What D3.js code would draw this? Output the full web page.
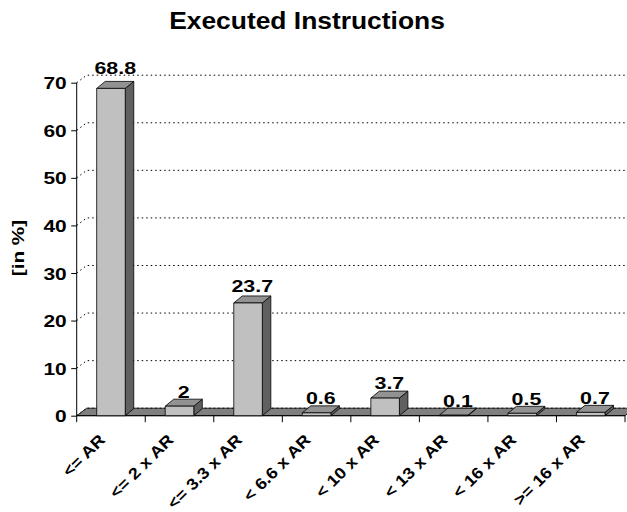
<!DOCTYPE html>
<html>
<head>
<meta charset="utf-8">
<script src="https://cdn.jsdelivr.net/npm/d3@7"></script>
<style>
  html, body { margin: 0; padding: 0; background: #fff; }
  svg { display: block; }
  text { font-family: Arial, "Liberation Sans", Helvetica, sans-serif; font-weight: bold; fill: #000; }
</style>
</head>
<body>
<svg id="chart" width="627" height="512"></svg>
<script>
const categories = ["<= AR", "<= 2 x AR", "<= 3.3 x AR", "< 6.6 x AR", "< 10 x AR", "< 13 x AR", "< 16 x AR", ">= 16 x AR"];
const values = [68.8, 2, 23.7, 0.6, 3.7, 0.1, 0.5, 0.7];
const yTicks = [0, 10, 20, 30, 40, 50, 60, 70];
const titleText = "Executed Instructions";
const yTitle = "[in %]";

const svg = d3.select("#chart");
const left = 76.7, right = 625, y0px = 415.7, yTop = 82.7;
const wallDx = 10, wallDy = -7.5;   // floor / back wall depth
const barDx = 8.5, barDy = -7;      // bar depth
const SX = 1.26;                    // horizontal stretch of the reference lettering

const x = d3.scaleBand().domain(categories).range([left, right])
  .paddingInner(0.583).paddingOuter(0.2915);
const y = d3.scaleLinear().domain([0, 70]).range([y0px, yTop]);
const step = x.step();

// Title
svg.append("text").attr("transform", "translate(307,28.5) scale(1.1,1)").attr("text-anchor", "middle")
  .style("font-size", "24px").text(titleText);

// Y title
svg.append("text").attr("transform", `translate(24,248) rotate(-90) scale(${SX - 0.04},1)`)
  .attr("text-anchor", "middle").style("font-size", "17px").text(yTitle);

// Floor
const floorPts = [[left, y0px], [right, y0px], [right + wallDx, y0px + wallDy], [left + wallDx, y0px + wallDy]];
svg.append("polygon").attr("points", floorPts.map(p => p.join(",")).join(" "))
  .attr("fill", "#7f7f7f").attr("stroke", "#000").attr("stroke-width", 0.8);

// Gridlines (dotted) on side wall + back wall
const grid = svg.append("g");
yTicks.forEach(t => {
  const yy = y(t);
  grid.append("path")
    .attr("d", `M${left},${yy}L${left + wallDx},${yy + wallDy}L${627},${yy + wallDy}`)
    .attr("fill", "none").attr("stroke", "#000").attr("stroke-width", 1)
    .attr("stroke-dasharray", "1.5,3");
});

// Y axis via d3
const yAxis = d3.axisLeft(y).tickValues(yTicks).tickSize(5.5).tickFormat(d3.format("d"));
const yg = svg.append("g").attr("transform", `translate(${left},0)`).call(yAxis);
yg.select(".domain").remove();
yg.selectAll(".tick line").attr("stroke", "#000").attr("stroke-width", 1);
yg.selectAll(".tick text")
  .attr("x", 0).attr("dy", "0.36em")
  .attr("transform", `translate(-10,0) scale(${SX - 0.03},1)`)
  .style("font-size", "17px").style("font-family", "Arial, 'Liberation Sans', sans-serif")
  .style("font-weight", "bold").attr("fill", "#000");
svg.append("line").attr("x1", left).attr("x2", left).attr("y1", y(70)).attr("y2", y0px + 6.5)
  .attr("stroke", "#000").attr("stroke-width", 1);

// X axis line and ticks at band boundaries
svg.append("line").attr("x1", left).attr("x2", right).attr("y1", y0px).attr("y2", y0px)
  .attr("stroke", "#000").attr("stroke-width", 1);
categories.forEach((c, i) => {
  const bx = x(c) - (step - x.bandwidth()) / 2 + step;
  svg.append("line").attr("x1", bx).attr("x2", bx).attr("y1", y0px).attr("y2", y0px + 6.5)
    .attr("stroke", "#000").attr("stroke-width", 1);
});

// Bars
const bars = svg.append("g");
categories.forEach((c, i) => {
  const v = values[i];
  const x0 = x(c), x1 = x(c) + x.bandwidth();
  const yt = y(v), yb = y0px;
  const g = bars.append("g").attr("stroke", "#000").attr("stroke-width", 0.8).attr("stroke-linejoin", "round");
  // side
  g.append("polygon").attr("points", [[x1, yb], [x1 + barDx, yb + barDy], [x1 + barDx, yt + barDy], [x1, yt]].map(p => p.join(",")).join(" "))
    .attr("fill", "#606060");
  // top
  g.append("polygon").attr("points", [[x0, yt], [x1, yt], [x1 + barDx, yt + barDy], [x0 + barDx, yt + barDy]].map(p => p.join(",")).join(" "))
    .attr("fill", "#929292");
  // front
  g.append("rect").attr("x", x0).attr("y", yt).attr("width", x1 - x0).attr("height", Math.max(0, yb - yt))
    .attr("fill", "#c0c0c0");
  // value label
  const ly = yt - 8.5 - (y0px - yt) * 0.018;
  svg.append("text").attr("transform", `translate(${(x0 + x1) / 2 + barDx / 2},${ly}) scale(${SX},1)`)
    .attr("text-anchor", "middle").style("font-size", "17px").text(d3.format("")(v));
});

// X labels rotated
categories.forEach(c => {
  const cx = x(c) + x.bandwidth() / 2;
  svg.append("text").attr("transform", `translate(${cx - 5},${441}) rotate(-45) scale(1.14,1)`)
    .attr("text-anchor", "end").style("font-size", "16px").text(c);
});
</script>
</body>
</html>
